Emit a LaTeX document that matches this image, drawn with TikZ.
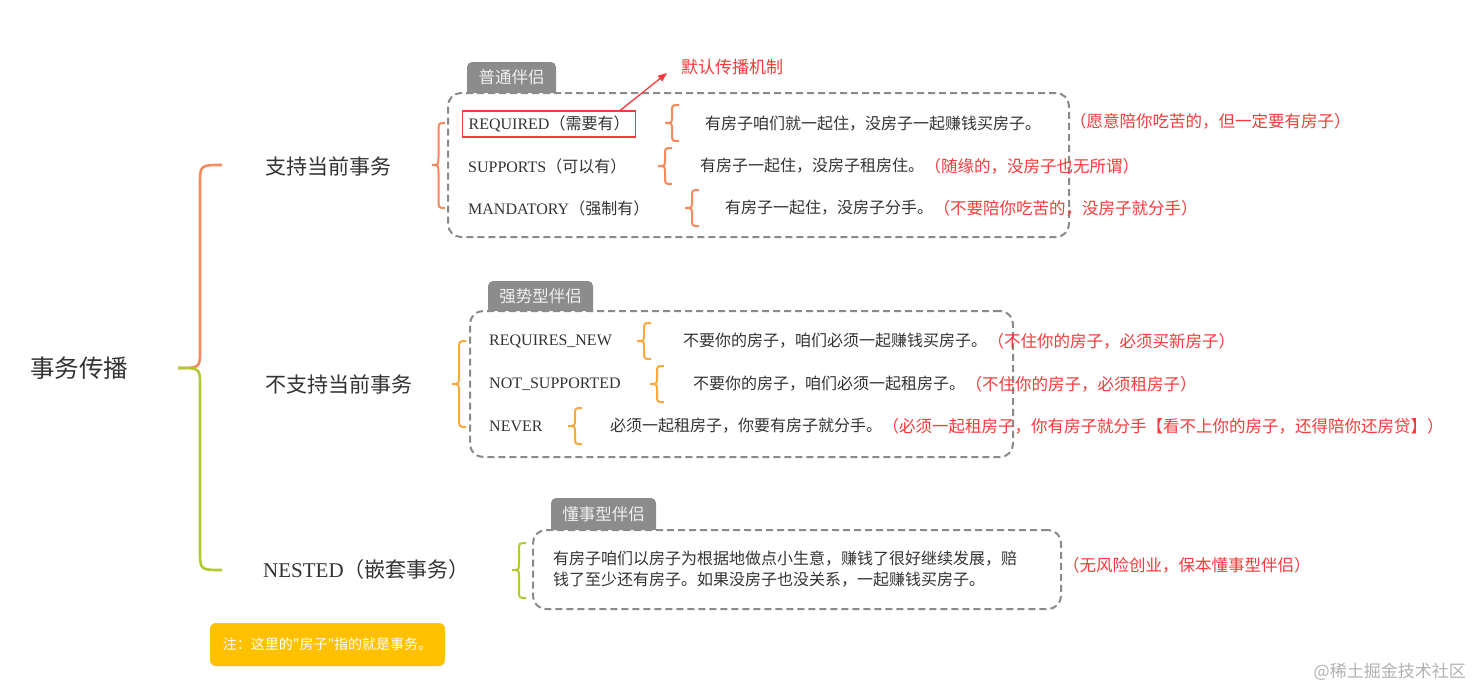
\documentclass[tikz,border=0pt]{standalone}
\usepackage{fontspec}
\setmainfont{Liberation Serif}
\newfontfamily\cjk{Noto Sans CJK SC}
\usetikzlibrary{arrows.meta}
\definecolor{coral}{HTML}{F58A5E}
\definecolor{orng}{HTML}{FAAA3C}
\definecolor{lgreen}{HTML}{B4C832}
\definecolor{redtxt}{HTML}{F83A3A}
\definecolor{tabgray}{HTML}{8C8C8C}
\definecolor{dashgray}{HTML}{8A8A8A}
\definecolor{notey}{HTML}{FFC000}
\definecolor{ink}{HTML}{333333}
\newcommand\fs[1]{\fontsize{#1}{#1}\selectfont}
% #1 style, #2 xtip, #3 xend, #4 ytop, #5 ymid, #6 ybot, #7 r
\newcommand\mybrace[7]{%
  \draw[#1] (#3,#4) .. controls ({(#2+#3)/2},#4) .. ({(#2+#3)/2},{#4+#7})
    -- ({(#2+#3)/2},{#5-#7}) .. controls ({(#2+#3)/2},#5) .. (#2,#5)
    .. controls ({(#2+#3)/2},#5) .. ({(#2+#3)/2},{#5+#7})
    -- ({(#2+#3)/2},{#6-#7}) .. controls ({(#2+#3)/2},#6) .. (#3,#6);}
\begin{document}
\begin{tikzpicture}[x=1pt,y=-1pt,
  txt/.style={anchor=west,inner sep=0pt,text=ink},
  item/.style={txt,font=\fs{16}},
  desc/.style={txt,font=\cjk\fs{16}},
  note/.style={anchor=west,inner sep=0pt,text=redtxt,font=\cjk\fs{16.5}},
  branch/.style={txt,font=\cjk\fs{21}},
  groupbox/.style={draw=dashgray,line width=2pt,dash pattern=on 7pt off 4pt,rounded corners=13pt,inner sep=0pt},
  tabtext/.style={inner sep=0pt,text=white!94!black,font=\cjk\fs{16.5}},
  bigb/.style={line width=2.6pt},
  smallb/.style={line width=2pt}]
\useasboundingbox (0,0) rectangle (1472,691);
\fill[white] (0,0) rectangle (1472,691);

% root and branches
\node[txt,font=\cjk\fs{24.5}] (root) at (30,368) {事务传播};
\node[branch] (b1) at (265,166) {支持当前事务};
\node[branch] (b2) at (265,384) {不支持当前事务};
\node[txt,font=\fs{21}] (b3) at (263,570) {NESTED{\cjk（嵌套事务）}};

% big brace
\draw[bigb,coral] (222,165) .. controls (200,165) .. (200,185) -- (200,350) .. controls (200,368) .. (178,368);
\draw[bigb,lgreen] (178,368) .. controls (200,368) .. (200,386) -- (200,550) .. controls (200,570) .. (222,570);

% ---------- group 1 ----------
\fill[tabgray] (467,93) [rounded corners=5pt] -- (467,62) -- (556,62) [sharp corners] -- (556,93) -- cycle;
\node[tabtext] (t1) at (511.5,77.5) {普通伴侣};
\node[groupbox,minimum width=621pt,minimum height=144pt] (g1) at (758.5,165) {};
\mybrace{smallb,coral}{432}{445}{123}{165}{208}{9}

\node[item,draw=redtxt,line width=1.3pt,inner xsep=6pt,minimum height=26pt] (req) at (462,124) {REQUIRED{\cjk（需要有）}};
\node[item] (sup) at (468,166) {SUPPORTS{\cjk（可以有）}};
\node[item] (man) at (468,208) {MANDATORY{\cjk（强制有）}};

\mybrace{smallb,coral}{665}{679}{105}{123}{141}{7}
\mybrace{smallb,coral}{658}{672}{148}{166}{184}{7}
\mybrace{smallb,coral}{685}{699}{190}{208}{226}{7}

\node[desc] (d1) at (705,124) {有房子咱们就一起住，没房子一起赚钱买房子。};
\node[desc] (d2) at (700,166) {有房子一起住，没房子租房住。};
\node[desc] (d3) at (725,208) {有房子一起住，没房子分手。};
\node[note] (n1) at (1070,121) {（愿意陪你吃苦的，但一定要有房子）};
\node[note] (n2) at (d2.east) {（随缘的，没房子也无所谓）};
\node[note] (n3) at (d3.east) {（不要陪你吃苦的，没房子就分手）};

\node[anchor=west,inner sep=0pt,text=redtxt,font=\cjk\fs{17}] (lbl) at (681,67) {默认传播机制};
\draw[redtxt,line width=1.3pt,-{Triangle[length=9pt,width=7pt]}] ([xshift=-16pt]req.north east) -- ([xshift=-14pt,yshift=-6pt]lbl.west);

% ---------- group 2 ----------
\fill[tabgray] (488,311) [rounded corners=5pt] -- (488,281) -- (593,281) [sharp corners] -- (593,311) -- cycle;
\node[tabtext] (t2) at (540.5,296.5) {强势型伴侣};
\node[groupbox,minimum width=543pt,minimum height=146pt] (g2) at (741.5,384) {};
\mybrace{smallb,orng}{452}{466}{341}{384}{427}{9}

\node[item] (rn) at (489,341) {REQUIRES\_NEW};
\node[item] (ns) at (489,384) {NOT\_SUPPORTED};
\node[item] (nv) at (489,426) {NEVER};

\mybrace{smallb,orng}{637}{651}{323}{341}{359}{7}
\mybrace{smallb,orng}{650}{664}{366}{384}{402}{7}
\mybrace{smallb,orng}{568}{582}{408}{426}{444}{7}

\node[desc] (e1) at (683,341) {不要你的房子，咱们必须一起赚钱买房子。};
\node[desc] (e2) at (693,384) {不要你的房子，咱们必须一起租房子。};
\node[desc] (e3) at (610,426) {必须一起租房子，你要有房子就分手。};
\node[note] (o1) at (e1.east) {（不住你的房子，必须买新房子）};
\node[note] (o2) at (e2.east) {（不住你的房子，必须租房子）};
\node[note] (o3) at (e3.east) {（必须一起租房子，你有房子就分手【看不上你的房子，还得陪你还房贷】）};

% ---------- group 3 ----------
\fill[tabgray] (551,530) [rounded corners=5pt] -- (551,498) -- (656,498) [sharp corners] -- (656,530) -- cycle;
\node[tabtext] (t3) at (603.5,514) {懂事型伴侣};
\node[groupbox,minimum width=528pt,minimum height=79pt] (g3) at (797,569.5) {};
\mybrace{smallb,lgreen}{512}{526}{543}{570}{598}{8}
\node[desc,align=left,font=\cjk\fontsize{16}{21}\selectfont] (f1) at (553,569.5) {有房子咱们以房子为根据地做点小生意，赚钱了很好继续发展，赔\\钱了至少还有房子。如果没房子也没关系，一起赚钱买房子。};
\node[note] (p1) at (1063,565) {（无风险创业，保本懂事型伴侣）};

% note
\node[fill=notey,rounded corners=6pt,minimum width=235pt,minimum height=43pt,inner sep=0pt,text=white,font=\cjk\fs{14}] (nt) at (327.5,644.5) {注：这里的"房子"指的就是事务。};

% watermark
\node[anchor=east,inner sep=0pt,text=black!30,font=\cjk\fs{17}] (wm) at (1466,672) {@稀土掘金技术社区};
\end{tikzpicture}
\end{document}
